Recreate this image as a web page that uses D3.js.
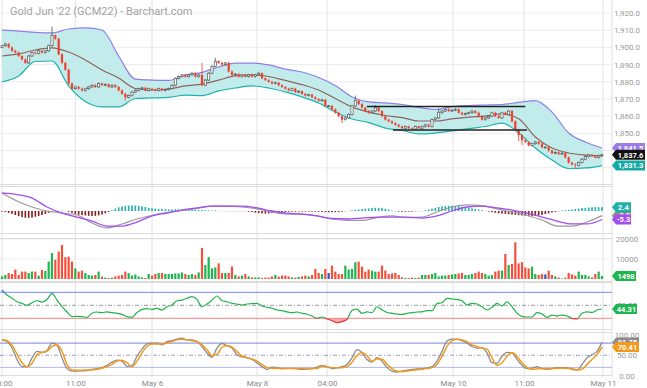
<!DOCTYPE html>
<html>
<head>
<meta charset="utf-8">
<script src="https://cdn.jsdelivr.net/npm/d3@7/dist/d3.min.js"></script>
<style>
  body { margin: 0; background: #fff; }
  svg text { font-family: Roboto, "Open Sans", sans-serif; }
</style>
</head>
<body>
<div id="chart"></div>
<script>
// ---- data ----
var firstOpen = 1900;
var closes = [
  1901, 1902, 1900, 1898, 1897, 1895, 1893, 1891, 1895, 1897,
  1896.5, 1898, 1897, 1898, 1901, 1907, 1905, 1896, 1891, 1887,
  1879, 1876, 1877, 1876, 1875, 1876, 1877, 1878, 1877, 1879,
  1878, 1878.5, 1877, 1878, 1877, 1875, 1873, 1871, 1872, 1874,
  1875, 1876, 1876.5, 1875, 1876, 1875.5, 1875, 1876, 1875, 1875.5,
  1876, 1878, 1882, 1883, 1884, 1883, 1884, 1885, 1883, 1884,
  1878, 1881, 1885, 1889, 1892, 1891, 1890, 1891, 1886, 1884,
  1884.5, 1883, 1884, 1883, 1884, 1883, 1884, 1885, 1882, 1881,
  1880, 1879, 1879.5, 1878, 1877, 1876, 1875, 1876, 1874, 1874.5,
  1873, 1872, 1872.5, 1871, 1870, 1869, 1869.5, 1866, 1866, 1864,
  1862, 1860, 1858, 1859, 1861, 1866, 1869, 1867, 1865, 1863,
  1862, 1863, 1865, 1863, 1860, 1858, 1857, 1856, 1855, 1854,
  1853, 1854, 1853, 1852.5, 1854, 1853, 1854, 1855, 1854, 1858,
  1859, 1862, 1863, 1864, 1863, 1863.5, 1864, 1862, 1861, 1861.5,
  1862, 1863, 1862, 1860, 1858, 1859, 1860, 1862, 1860, 1859,
  1862, 1861, 1863, 1857, 1852, 1849, 1846, 1845, 1843, 1844,
  1845, 1844, 1842, 1842, 1840, 1838.5, 1839, 1838, 1838.5, 1836,
  1833, 1832, 1831.5, 1833, 1835, 1836.5, 1837.5, 1837, 1836, 1837,
  1837.6
];
// long wicks that stand out
var wickHigh = {15: 1912, 60: 1891, 64: 1894, 106: 1872, 112: 1866.5, 131: 1864.5};
var wickLow = {37: 1869, 102: 1856, 155: 1845.5, 156: 1843, 172: 1830};

// bollinger bands, one value every 5 bars
var bandStep = 5;
var bandUpper = [1910.1, 1909.5, 1908.7, 1908.4, 1910.7, 1911.3, 1910.1, 1895, 1881.6, 1881,
  1880.8, 1884, 1885.5, 1888.6, 1890.9, 1890.9, 1889.8, 1887.4, 1885.7, 1882.5,
  1877.8, 1871.2, 1868.3, 1867.7, 1866.8, 1865.1, 1863.9, 1865.6, 1866.2, 1866.5,
  1866.8, 1868, 1869.1, 1862.4, 1850.2, 1845, 1841.5];
var bandMid = [1895, 1896.2, 1898.5, 1899.7, 1897.3, 1892.7, 1886.9, 1882.2, 1876.1, 1875.2,
  1875.8, 1877.6, 1878.7, 1881, 1883.4, 1884, 1883.1, 1880.8, 1878.4, 1875.2,
  1870.3, 1865.4, 1862.4, 1860.4, 1859.2, 1857.2, 1857.2, 1858.4, 1859.5, 1860.1,
  1861.3, 1858.5, 1847.9, 1841.5, 1838.6, 1837.4, 1836.9];
var bandLower = [1879.9, 1883.4, 1891.8, 1892.1, 1877.6, 1868.5, 1865.4, 1865.4, 1870.3, 1870.6,
  1870.9, 1872.3, 1872, 1874.7, 1876.4, 1877.6, 1876.4, 1874.1, 1871.2, 1867.7,
  1862.4, 1858.4, 1856.3, 1853.1, 1851.7, 1849.7, 1850.2, 1851.4, 1852.8, 1854,
  1856, 1850.2, 1841.5, 1834.5, 1829.6, 1829.9, 1831.3];

// drawn channel lines (bar index from / to, price)
var channelFrom = [109.5, 117.3];
var channelTo = [157, 157.5];
var channelPrice = [1865.6, 1852];

var volumes = [
  1340, 2000, 3000, 2500, 4700, 2000, 3700, 3700, 3000, 3700,
  3700, 1700, 4500, 4000, 8700, 12900, 9700, 13700, 17000, 10900,
  11200, 8700, 5300, 3700, 4200, 3000, 2000, 1700, 2000, 3700,
  1200, 700, 500, 700, 1300, 1700, 2000, 3700, 3000, 1700,
  2200, 1300, 800, 500, 2500, 1700, 2500, 3000, 3000, 2500,
  2500, 2500, 2800, 2800, 3300, 2500, 2000, 2500, 2000, 3300,
  15500, 7000, 10900, 5300, 5800, 7800, 3000, 3000, 3000, 6300,
  2000, 1300, 1700, 2500, 1300, 800, 800, 800, 500, 700,
  700, 1300, 2000, 1200, 1700, 1700, 1300, 800, 700, 1000,
  1300, 1700, 1300, 2000, 5000, 3000, 2500, 5000, 3000, 6700,
  3700, 2500, 2500, 6700, 4700, 5000, 8400, 8700, 6200, 3700,
  4700, 4200, 3700, 3700, 6700, 4200, 2500, 2800, 3000, 2000,
  800, 500, 500, 700, 500, 700, 2000, 2000, 2000, 2500,
  3000, 1300, 1700, 1700, 2000, 2300, 2500, 2700, 3000, 2000,
  2000, 2500, 3000, 3700, 3000, 2500, 1700, 2000, 3700, 4200,
  4200, 12500, 7000, 7500, 18300, 7800, 8400, 5800, 5300, 6200,
  2500, 2000, 2500, 2300, 4200, 2000, 1300, 700, 300, 700,
  3000, 2300, 1700, 3700, 2000, 2000, 1300, 800, 2500, 3700,
  1498
];

var macdHist = [
  -0.3, -0.6, -1.2, -1.8, -2.5, -3.2, -3.8, -4.2, -4.3, -4.1,
  -3.6, -3.1, -2.5, -1.8, -1.1, -0.5, -0.2, 0.2, 0.3, 0.1,
  -0.6, -1.2, -1.8, -2.3, -2.6, -2.8, -3, -3.1, -3, -2.7,
  -2.2, -1.5, -0.6, 0.6, 1.5, 2.3, 2.9, 3.2, 3.4, 3.5,
  3.4, 3.2, 2.9, 2.5, 2, 1.7, 1.5, 1.3, 1.2, 1.1,
  1, 1, 1.1, 1.1, 1, 1, 1, 0.9, 0.8, 0.7,
  0.6, 0.5, 0.4, 0.3, 0.3, 0.2, 0.2, 0.1, 0.1, 0,
  -0.1, 0, -0.1, -0.2, -0.4, -0.7, -1, -1.3, -1.5, -1.6,
  -1.5, -1.3, -1.1, -0.9, -0.7, -0.6, -0.5, -0.4, -0.4, -0.3,
  -0.3, -0.3, -0.4, -0.4, -0.5, -0.5, -0.6, -0.7, -0.8, -0.8,
  -0.7, -0.6, -0.4, -0.2, 0.2, 0.5, 0.8, 1, 1.2, 1.4,
  1.6, 1.8, 2, 2, 1.8, 1.4, 0.9, 0.4, -0.2, -0.4,
  -0.5, -0.5, -0.4, -0.3, -0.2, -0.1, 0.2, 0.5, 1, 1.5,
  2, 2.5, 2.9, 3.1, 3.3, 3.3, 3.2, 3, 2.8, 2.5,
  2.1, 1.7, 1.3, 0.9, 0.5, 0.1, -0.4, -0.8, -1.1, -1.4,
  -1.6, -1.8, -2, -2.2, -2.4, -2.6, -2.8, -2.9, -3, -3.1,
  -3, -2.8, -2.4, -1.9, -1.4, -0.9, -0.5, -0.1, 0.3, 0.5,
  0.7, 0.9, 1.2, 1.5, 1.8, 2, 2.2, 2.3, 2.4, 2.4,
  2.4
];
// macd and signal, one value every 4.5 bars
var macdStep = 4.5;
var macdLine = [11.3, 6.3, 2.5, 0, -1.3, -2.5, -7.5, -10.6, -8.1, -5,
  -2.8, -0.9, 0.3, 1.6, 3.1, 3.1, 2.5, 1.3, -0.6, -1.9,
  -1.9, -3.1, -5, -5.9, -5.9, -4.1, -3.1, -4.1, -3.8, -0.6,
  2.5, 3.8, 3.4, 1.3, -0.6, -2.8, -5.6, -9.4, -9.4, -6.9, -2.9];
var macdSignal = [11.3, 10.3, 8.1, 2.5, -1.3, -3.8, -6.3, -9.4, -9.4, -6.9,
  -3.1, -1.3, 0.6, 1.9, 3.1, 3.1, 3.1, 1.9, 0, -1.3,
  -1.9, -3.1, -4.7, -5, -4.4, -3.8, -3.8, -3.8, -4.4, -3.1,
  0, 2.5, 3.1, 1.9, 0.6, -1.3, -3.8, -6.3, -8.1, -8.1, -5.3];

// rsi and stochastics, one value every 1.5 bars
var oscStep = 1.5;
var rsi = [73.5, 65.8, 61, 55.5, 53, 50, 54, 57, 55, 59,
  68.5, 58, 48, 40, 32.5, 33, 32.5, 31.5, 37.7, 39.7,
  38.6, 40, 38.6, 37.7, 36, 32.5, 31.5, 39, 43.8, 44.8,
  43.8, 45.4, 42.8, 47.8, 50.5, 57, 58, 60.8, 63.3, 59,
  47.8, 52, 58, 64.3, 57, 55.5, 53, 52, 50.5, 52,
  52.5, 53, 49, 47, 45.4, 42.8, 41.7, 40, 38.6, 39.7,
  37.7, 36.2, 33.5, 30, 32, 29, 26.3, 23.2, 24.8, 28.5,
  42, 44, 37.7, 40, 38.6, 47.8, 42.8, 39, 37.7, 36.6,
  36, 37.7, 38.6, 39.7, 40, 41.7, 41.7, 52.5, 54, 60.8,
  59.7, 59, 57, 50.5, 53, 52, 47.8, 42.8, 47, 53,
  49, 55.5, 48, 38, 33, 32, 32, 38.6, 36.6, 31.5,
  35, 33.5, 35, 33.5, 30, 29, 37.7, 40, 39, 42.8,
  44.31];
var stochK = [88, 84, 68, 39.5, 21.8, 22, 43.6, 59.6, 57, 62,
  80, 75, 43.6, 17, 11, 11, 11.5, 12, 15, 17,
  19.4, 25, 33, 37.8, 35.4, 22.5, 25, 47.5, 65, 78,
  80, 80, 75.8, 83.8, 86, 89.6, 92, 88, 88, 83.8,
  71.7, 55.7, 45, 67.8, 79, 73.4, 67.8, 51.6, 46, 43.6,
  39.5, 31.5, 21.8, 15.3, 20.8, 19.4, 17, 17.5, 17.7, 16.5,
  15.3, 16, 17, 21, 25, 21.8, 17, 19, 21.8, 27.4,
  43.6, 63.7, 57, 39.5, 33, 44, 35.4, 19.4, 11, 8.7,
  11, 13, 15.3, 16, 17, 19, 21.8, 35.4, 59.6, 85,
  89.6, 89.6, 86, 80, 71.7, 67.8, 69, 55.7, 31.5, 30,
  47.5, 57, 56, 40, 25, 17, 18, 21.8, 17, 15.3,
  17, 19.4, 19.4, 19.4, 15.3, 13.6, 27.4, 43.6, 51.6, 59.6,
  81.75];
var stochD = [88, 86, 75, 53, 31.5, 21.8, 29.5, 51.6, 57, 59.6,
  71.7, 75.8, 59.6, 27.4, 13.6, 13, 13.2, 13.4, 13.6, 15.5,
  17.7, 22, 27.4, 35.4, 37.8, 31.5, 21.8, 35.4, 55.7, 71.7,
  78, 78, 78, 80, 83.8, 88, 89.6, 88, 86, 83.8,
  75.8, 63.7, 49, 52, 70, 73.4, 70, 59.6, 47.5, 44,
  41, 35.4, 27.4, 19.4, 17.7, 17.3, 17, 17, 17, 17,
  17, 17, 17, 17, 23.2, 21.8, 19.4, 19.4, 19.4, 21.8,
  33, 49, 57, 49, 35.4, 41, 41, 27.4, 17, 11,
  9.5, 11, 13, 14, 15.3, 17, 19.4, 27.4, 47.5, 71.7,
  86, 89.6, 88, 83.8, 75.8, 71.7, 67.8, 65, 43.6, 25,
  31.5, 47.5, 57, 47.5, 31.5, 19.4, 15.3, 16, 17, 17,
  17, 17.5, 18, 17.5, 17, 13.6, 15.3, 27.4, 39.5, 51.6,
  70.41];

var timeTicks = [0, 22, 45, 76.5, 97.5, 135.3, 156.6, 180.3];
var timeLabels = ["10:00", "11:00", "May 6", "May 8", "04:00", "May 10", "11:00", "May 11"];
var priceTicks = [1920, 1910, 1900, 1890, 1880, 1870, 1860, 1850];
var priceGrid = [1920, 1910, 1900, 1890, 1880, 1870, 1860, 1850, 1840, 1830];
var volumeTicks = [20000, 10000];
var stochTicks = [100, 50, 0];

// ---- layout ----
var W = 647, H = 388, plotRight = 612;
var panels = {main: [0, 184], macd: [186, 233], vol: [238, 281], rsi: [282, 329], stoch: [332, 375]};

var svg = d3.select('#chart').append('svg')
    .attr('width', W)
    .attr('height', H);

var x = d3.scaleLinear().domain([0, 180]).range([2, 602]);
var yPrice = d3.scaleLinear().domain([1820, 1925]).range([185, 4.4]);
var yMacd = d3.scaleLinear().domain([-14, 15]).range([233.4, 187]);
var yVol = d3.scaleLinear().domain([0, 20000]).range([279, 239]);
var yRsi = d3.scaleLinear().domain([0, 100]).range([337.8, 272.8]);
var yStoch = d3.scaleLinear().domain([0, 100]).range([375.5, 335]);

var defs = svg.append('defs');
function clip(id, y0, y1) {
  defs.append('clipPath').attr('id', id)
    .append('rect').attr('x', 0).attr('y', y0).attr('width', plotRight).attr('height', y1 - y0);
  return 'url(#' + id + ')';
}
var clipMain = clip('c-main', 0, panels.main[1]);
var clipMacd = clip('c-macd', panels.macd[0], panels.macd[1]);
var clipRsi = clip('c-rsi', panels.rsi[0], panels.rsi[1]);
var clipRsiHi = clip('c-rsi-hi', panels.rsi[0], yRsi(70));
var clipRsiMid = clip('c-rsi-mid', yRsi(70), yRsi(30));
var clipRsiLo = clip('c-rsi-lo', yRsi(30), panels.rsi[1]);
var clipStoch = clip('c-stoch', panels.stoch[0], panels.stoch[1]);

// ---- grid ----
var grid = svg.append('g').attr('class', 'grid');
grid.selectAll('.hgrid').data(priceGrid).enter().append('line')
    .attr('x1', 0).attr('x2', plotRight)
    .attr('y1', function(d) { return yPrice(d); })
    .attr('y2', function(d) { return yPrice(d); })
    .attr('stroke', '#ececec');
grid.selectAll('.vgrid-l').data(volumeTicks).enter().append('line')
    .attr('x1', 0).attr('x2', plotRight)
    .attr('y1', function(d) { return yVol(d); })
    .attr('y2', function(d) { return yVol(d); })
    .attr('stroke', '#f0f0f0');
grid.selectAll('.tgrid').data(timeTicks).enter().append('line')
    .attr('x1', function(d) { return x(d); })
    .attr('x2', function(d) { return x(d); })
    .attr('y1', 0).attr('y2', 377)
    .attr('stroke', '#e2e2e2');
grid.append('line').attr('x1', plotRight).attr('x2', plotRight)
    .attr('y1', 0).attr('y2', 377).attr('stroke', '#dedede');
Object.keys(panels).forEach(function(k) {
  panels[k].forEach(function(yy, j) {
    if (k === 'main' && j === 0) return;
    grid.append('line').attr('x1', 0).attr('x2', plotRight)
      .attr('y1', yy + 0.5).attr('y2', yy + 0.5).attr('stroke', '#dcdcdc');
  });
});

// title
svg.append('text').attr('x', 10).attr('y', 15)
    .attr('font-size', 11).attr('fill', '#a3a3a3')
    .text("Gold Jun '22 (GCM22) - Barchart.com");

// ---- price panel ----
var main = svg.append('g').attr('clip-path', clipMain);
var bandData = bandUpper.map(function(u, k) {
  return {i: k * bandStep, u: u, m: bandMid[k], l: bandLower[k]};
});
main.append('path').datum(bandData)
    .attr('fill', '#c2ebeb')
    .attr('d', d3.area().curve(d3.curveMonotoneX)
      .x(function(d) { return x(d.i); })
      .y0(function(d) { return yPrice(d.l); })
      .y1(function(d) { return yPrice(d.u); }));
function bandLine(key, color) {
  main.append('path').datum(bandData)
      .attr('fill', 'none').attr('stroke', color).attr('stroke-width', 1.2)
      .attr('d', d3.line().curve(d3.curveMonotoneX)
        .x(function(d) { return x(d.i); })
        .y(function(d) { return yPrice(d[key]); }));
}
bandLine('u', '#8f7fe6');
bandLine('l', '#1fb3ad');
bandLine('m', '#8d655c');

var bars = closes.map(function(c, i) {
  var o = i ? closes[i - 1] : firstOpen;
  var h = wickHigh[i] !== undefined ? wickHigh[i] : Math.max(o, c) + 0.6;
  var l = wickLow[i] !== undefined ? wickLow[i] : Math.min(o, c) - 0.6;
  return {i: i, o: o, c: c, h: h, l: l, up: c >= o};
});
var candle = main.selectAll('.candle').data(bars).enter().append('g');
candle.append('line')
    .attr('x1', function(d) { return x(d.i); })
    .attr('x2', function(d) { return x(d.i); })
    .attr('y1', function(d) { return yPrice(d.h); })
    .attr('y2', function(d) { return yPrice(d.l); })
    .attr('stroke', function(d) { return d.up ? '#555' : '#f0402e'; })
    .attr('stroke-width', 0.8);
candle.append('rect')
    .attr('x', function(d) { return x(d.i) - 1.1; })
    .attr('width', 2.2)
    .attr('y', function(d) { return yPrice(Math.max(d.o, d.c)); })
    .attr('height', function(d) { return Math.max(0.8, Math.abs(yPrice(d.o) - yPrice(d.c))); })
    .attr('fill', function(d) { return d.up ? '#fff' : '#f0402e'; })
    .attr('stroke', function(d) { return d.up ? '#555' : 'none'; })
    .attr('stroke-width', 0.7);

main.selectAll('.channel').data(channelPrice).enter().append('line')
    .attr('x1', function(d, k) { return x(channelFrom[k]); })
    .attr('x2', function(d, k) { return x(channelTo[k]); })
    .attr('y1', function(d) { return yPrice(d); })
    .attr('y2', function(d) { return yPrice(d); })
    .attr('stroke', '#222').attr('stroke-width', 1.4);

// ---- macd panel ----
var macd = svg.append('g').attr('clip-path', clipMacd);
macd.selectAll('.hist').data(macdHist).enter().append('rect')
    .attr('x', function(d, i) { return x(i) - 0.8; })
    .attr('width', 1.6)
    .attr('y', function(d) { return Math.min(yMacd(d), yMacd(0)); })
    .attr('height', function(d) { return Math.max(0.6, Math.abs(yMacd(d) - yMacd(0))); })
    .attr('fill', function(d) { return d >= 0 ? '#1fb0a9' : '#861c1c'; })
    .attr('opacity', function(d) { return Math.abs(d) < 0.25 ? 0.45 : 1; });
function oscLine(g, data, step, yScale, color, width) {
  g.append('path').datum(data)
      .attr('fill', 'none').attr('stroke', color).attr('stroke-width', width)
      .attr('d', d3.line().curve(d3.curveMonotoneX)
        .x(function(d, k) { return x(k * step); })
        .y(function(d) { return yScale(d); }));
}
oscLine(macd, macdLine, macdStep, yMacd, '#9b9b9b', 1.2);
oscLine(macd, macdSignal, macdStep, yMacd, '#a34cf2', 1.3);

// ---- volume panel ----
svg.append('g').selectAll('.vol').data(volumes).enter().append('rect')
    .attr('x', function(d, i) { return x(i) - 1.1; })
    .attr('width', 2.2)
    .attr('y', function(d) { return yVol(d); })
    .attr('height', function(d) { return yVol(0) - yVol(d); })
    .attr('fill', function(d, i) {
      var b = bars[i];
      if (b.c === b.o) return '#3355c4';
      return b.c > b.o ? '#1fb54f' : '#f4503c';
    });

// ---- rsi panel ----
var rsiG = svg.append('g').attr('clip-path', clipRsi);
[[70, '#7588f0', null], [50, '#9a9a9a', '4,2,1,2'], [30, '#ff8585', null]].forEach(function(r) {
  rsiG.append('line').attr('x1', 0).attr('x2', plotRight)
    .attr('y1', yRsi(r[0])).attr('y2', yRsi(r[0]))
    .attr('stroke', r[1]).attr('stroke-dasharray', r[2]);
});
rsiG.append('path').datum(rsi)
    .attr('clip-path', clipRsiLo)
    .attr('fill', '#f76b6b').attr('opacity', 0.55)
    .attr('d', d3.area().curve(d3.curveMonotoneX)
      .x(function(d, k) { return x(k * oscStep); })
      .y0(yRsi(30))
      .y1(function(d) { return yRsi(d); }));
[[clipRsiMid, '#21b34b'], [clipRsiHi, '#3047d8'], [clipRsiLo, '#e8333a']].forEach(function(s) {
  rsiG.append('g').attr('clip-path', s[0]).append('path').datum(rsi)
    .attr('fill', 'none').attr('stroke', s[1]).attr('stroke-width', 1.2)
    .attr('d', d3.line().curve(d3.curveMonotoneX)
      .x(function(d, k) { return x(k * oscStep); })
      .y(function(d) { return yRsi(d); }));
});

// ---- stochastics panel ----
var st = svg.append('g').attr('clip-path', clipStoch);
[[80, '#7a84d6', null], [50, '#a49fc8', '4,2,1,2'], [20, '#b2bbe9', null]].forEach(function(r) {
  st.append('line').attr('x1', 0).attr('x2', plotRight)
    .attr('y1', yStoch(r[0])).attr('y2', yStoch(r[0]))
    .attr('stroke', r[1]).attr('stroke-dasharray', r[2]);
});
oscLine(st, stochK, oscStep, yStoch, '#8c8c8c', 1.3);
oscLine(st, stochD, oscStep, yStoch, '#f39a1c', 1.5);

// ---- axes ----
function rightAxis(scale, ticks, fmt) {
  var g = svg.append('g').attr('transform', 'translate(617,0)')
      .call(d3.axisRight(scale).tickValues(ticks).tickSize(0).tickFormat(fmt));
  g.select('.domain').remove();
  g.selectAll('text').attr('x', 10).attr('text-anchor', 'middle')
      .attr('fill', '#9a9a9a').attr('font-size', 8);
  return g;
}
rightAxis(yPrice, priceTicks, d3.format(',.1f'));
rightAxis(yVol, volumeTicks, d3.format('d'));
rightAxis(yRsi, [50], d3.format('.2f'));
rightAxis(yStoch, stochTicks, d3.format('.2f'));

var xAxis = svg.append('g').attr('transform', 'translate(0,377)')
    .call(d3.axisBottom(x).tickValues(timeTicks).tickSize(0).tickPadding(3)
      .tickFormat(function(d, i) { return timeLabels[i]; }));
xAxis.select('.domain').remove();
xAxis.selectAll('text').attr('fill', '#8a8a8a').attr('font-size', 8);

// ---- value tags ----
function tag(yPos, label, bg, w) {
  var g = svg.append('g');
  var x0 = 612, h = 10;
  g.append('path')
      .attr('d', 'M' + x0 + ',' + yPos + 'L' + (x0 + 4) + ',' + (yPos - h / 2) +
        'H' + (x0 + 4 + w) + 'V' + (yPos + h / 2) + 'H' + (x0 + 4) + 'Z')
      .attr('fill', bg);
  g.append('text').attr('x', x0 + 4 + w / 2).attr('y', yPos + 2.8)
      .attr('text-anchor', 'middle').attr('font-size', 7.5).attr('font-weight', 'bold')
      .attr('fill', '#fff').text(label);
}
var last = closes.length - 1;
tag(yPrice(bandUpper[bandUpper.length - 1]), '1,841.5', '#9a7ee6', 29);
tag(yPrice(closes[last]), '1,837.6', '#111', 29);
tag(yPrice(bandLower[bandLower.length - 1]), '1,831.3', '#17aaa4', 29);
tag(yMacd(macdLine[macdLine.length - 1]), '-2.9', '#8a8a8a', 15);
tag(yMacd(macdHist[last]), '2.4', '#1fb0a9', 15);
tag(yMacd(macdSignal[macdSignal.length - 1]), '-5.3', '#a34cf2', 15);
tag(yVol(volumes[last]), '1498', '#1fb54f', 20);
tag(yRsi(rsi[rsi.length - 1]), '44.31', '#1fb54f', 21);
tag(yStoch(stochK[stochK.length - 1]), '81.75', '#8c8c8c', 23);
tag(yStoch(stochD[stochD.length - 1]), '70.41', '#f39a1c', 23);
</script>
</body>
</html>
